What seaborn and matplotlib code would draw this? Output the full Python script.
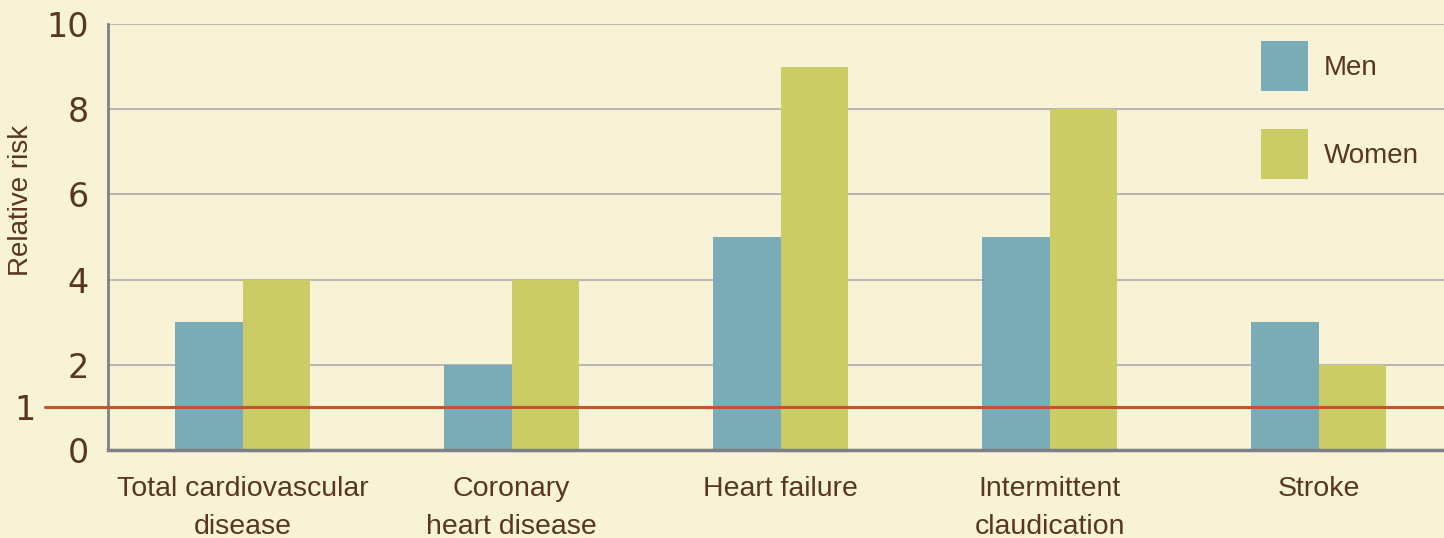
import matplotlib
matplotlib.use("Agg")
import matplotlib.pyplot as plt
import seaborn as sns
import pandas as pd
from matplotlib.patches import Patch

categories = ["Total cardiovascular\ndisease", "Coronary\nheart disease", "Heart failure",
              "Intermittent\nclaudication", "Stroke"]
men = [3, 2, 5, 5, 3]
women = [4, 4, 9, 8, 2]
series = ["Men", "Women"]
colors = ["#7aacb8", "#cccc66"]
yticks = [0, 2, 4, 6, 8, 10]
ref_value = 1

BG = "#f8f2d6"
TXT = "#5a3520"

df = pd.DataFrame({
    "category": categories * 2,
    "sex": [series[0]] * len(categories) + [series[1]] * len(categories),
    "risk": men + women,
})

sns.set_theme(style="white")
plt.rcParams["font.family"] = ["Liberation Sans", "DejaVu Sans"]

fig = plt.figure(figsize=(14.44, 5.38), dpi=100, facecolor=BG)
ax = fig.add_axes([108 / 1444, 88 / 538, 1345 / 1444, 426 / 538])
ax.set_facecolor(BG)

sns.barplot(data=df, x="category", y="risk", hue="sex", palette=colors,
            width=0.5, gap=0, saturation=1, linewidth=0, legend=False, ax=ax)

ax.set_xlim(-0.5, 4.5)
ax.set_ylim(0, 10)
ax.set_yticks(yticks)
ax.set_yticklabels([str(v) for v in yticks], family="DejaVu Sans", fontsize=24, color=TXT)
ax.set_yticks([ref_value], minor=True)
ax.set_yticklabels([str(ref_value)], minor=True, family="DejaVu Sans", fontsize=24, color=TXT)
ax.tick_params(axis="y", which="major", length=0, pad=14)
ax.tick_params(axis="y", which="minor", length=0, pad=52)
ax.tick_params(axis="x", length=0, pad=19)
ax.set_xticks(range(len(categories)))
ax.set_xticklabels(categories, fontsize=20.5, color=TXT, linespacing=1.6, va="top")

ax.yaxis.grid(True, which="major", color="#aaaaaa", linewidth=1.2)
ax.set_axisbelow(True)
for s in ["top", "right"]:
    ax.spines[s].set_visible(False)
ax.spines["left"].set_color("#7f7f86")
ax.spines["left"].set_linewidth(2)
ax.spines["bottom"].set_color("#7f7f86")
ax.spines["bottom"].set_linewidth(2.5)

ax.axhline(ref_value, xmin=(45 - 108) / 1345, xmax=1, color="#c0562a", linewidth=2.2,
           clip_on=False, zorder=5)

ax.set_xlabel("")
ax.set_ylabel("Relative risk", fontsize=20, color=TXT)
ax.yaxis.set_label_coords((34 - 108) / 1345, 0.585)

handles = [Patch(facecolor=c, edgecolor="none") for c in colors]
fig.legend(handles, series, loc="upper left", bbox_to_anchor=(1261 / 1444, 1 - 41 / 538),
           frameon=False, fontsize=20, handlelength=1.7, handleheight=2.4,
           labelspacing=1.36, handletextpad=0.55, borderpad=0, borderaxespad=0,
           labelcolor=TXT)

fig.savefig("out.png", dpi=100, facecolor=BG)
